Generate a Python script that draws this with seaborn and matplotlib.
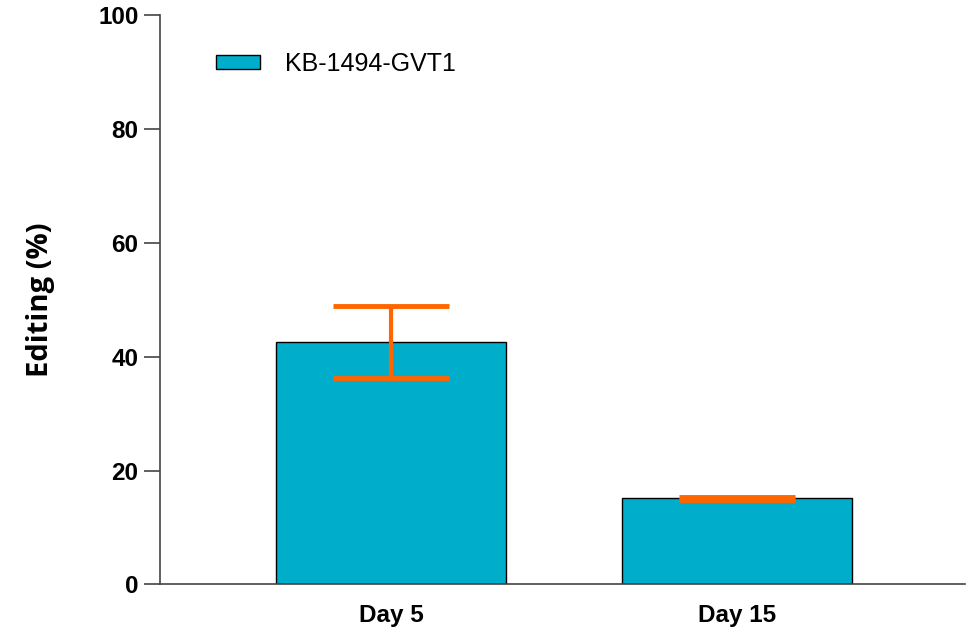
import numpy as np
import pandas as pd
import seaborn as sns
import matplotlib.pyplot as plt

days = ['Day 5', 'Day 15']
editing_mean = [42.6, 15.1]
editing_sd = [6.3, 0.2]
series_name = 'KB-1494-GVT1'

bar_color = '#00AECC'
err_color = '#FF6600'

sns.set_style('ticks')
plt.rcParams['font.family'] = ['Liberation Sans', 'DejaVu Sans']
plt.rcParams['text.color'] = 'black'
plt.rcParams['axes.labelcolor'] = 'black'
plt.rcParams['xtick.color'] = 'black'
plt.rcParams['ytick.color'] = 'black'

df = pd.DataFrame({'day': days, 'editing': editing_mean, 'group': series_name})

fig = plt.figure(figsize=(9.8, 6.37), dpi=100)
ax = fig.add_axes([0.1633, 0.0827, 0.8214, 0.8933])

sns.barplot(data=df, x='day', y='editing', hue='group', palette=[bar_color],
            saturation=1, errorbar=None, width=0.665, edgecolor='black',
            linewidth=1.0, ax=ax)

# SD error bars, caps are half the bar width
xs = np.arange(len(days))
ax.errorbar(xs, editing_mean, yerr=editing_sd, fmt='none', ecolor=err_color,
            elinewidth=3, capsize=42, capthick=3.5, zorder=5)

ax.set_xlim(-0.668, 1.66)
ax.set_ylim(0, 100)
ax.set_yticks([0, 20, 40, 60, 80, 100])
ax.set_xlabel('')
ax.set_ylabel('Editing (%)', family=['Open Sans', 'DejaVu Sans'],
              fontsize=21, fontweight='bold', labelpad=31)

for lab in ax.get_yticklabels() + ax.get_xticklabels():
    lab.set_fontsize(17.5)
    lab.set_fontweight('bold')

ax.tick_params(axis='y', length=11.5, width=1.2, color='#444444', pad=4)
ax.tick_params(axis='x', length=0, pad=14)
for side in ['top', 'right']:
    ax.spines[side].set_visible(False)
for side in ['left', 'bottom']:
    ax.spines[side].set_color('#444444')
    ax.spines[side].set_linewidth(1.2)

leg = ax.legend(loc='upper left', bbox_to_anchor=(0.042, 0.975), frameon=False,
                fontsize=18, handlelength=1.75, handleheight=0.5,
                handletextpad=1.0)

fig.savefig('out.png', dpi=100)
